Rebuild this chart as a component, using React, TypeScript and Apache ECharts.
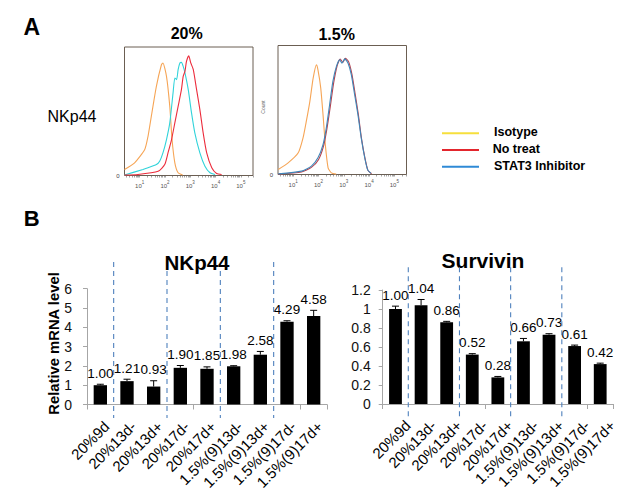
import React, { useEffect, useRef } from 'react';
import * as echarts from 'echarts';

// ---------- Panel B data ----------
const categories = ['20%9d', '20%13d-', '20%13d+', '20%17d-', '20%17d+', '1.5%(9)13d-', '1.5%(9)13d+', '1.5%(9)17d-', '1.5%(9)17d+'];
const nkp44Values = [1.0, 1.21, 0.93, 1.9, 1.85, 1.98, 2.58, 4.29, 4.58];
const nkp44Errors = [0.05, 0.1, 0.3, 0.12, 0.1, 0.03, 0.17, 0.05, 0.3];
const nkp44Labels = ['1.00', '1.21', '0.93', '1.90', '1.85', '1.98', '2.58', '4.29', '4.58'];
const survivinValues = [1.0, 1.04, 0.86, 0.52, 0.28, 0.66, 0.73, 0.61, 0.42];
const survivinErrors = [0.03, 0.06, 0.01, 0.01, 0.01, 0.03, 0.01, 0.01, 0.01];
const survivinLabels = ['1.00', '1.04', '0.86', '0.52', '0.28', '0.66', '0.73', '0.61', '0.42'];
// separators drawn after these category indices
const separatorAfter = [0, 2, 4, 6];

// ---------- Panel A data (log10 fluorescence, % of max count) ----------
const decadeTicks = [1, 2, 3, 4, 5];
const iso20 = [[0.4, 4.7], [0.8, 9.9], [1.2, 20.2], [1.33, 30.5], [1.46, 46], [1.66, 69.4], [1.86, 86.2], [1.92, 87.6], [2.06, 77.2], [2.19, 53.8], [2.28, 28], [2.39, 9.9], [2.52, 2.1], [2.7, 0.4]];
const cyan20 = [[0.4, 0.4], [1.13, 4.7], [1.33, 6.0], [1.66, 8.5], [1.79, 11.1], [1.92, 17.6], [2.06, 28], [2.19, 40.9], [2.32, 64.3], [2.39, 75.9], [2.46, 74.6], [2.52, 82.4], [2.59, 87.6], [2.65, 88], [2.72, 84.9], [2.79, 79.8], [2.92, 66.8], [3.05, 48.7], [3.18, 33.2], [3.38, 17.6], [3.58, 7.2], [3.78, 2.1], [3.98, 0.8]];
const red20 = [[0.4, 0.4], [0.93, 0.8], [1.73, 3.3], [1.99, 8.5], [2.12, 17.6], [2.26, 28], [2.39, 40.9], [2.52, 53.8], [2.65, 66.8], [2.72, 77.2], [2.79, 81], [2.85, 88.8], [2.94, 93.2], [3.02, 87.6], [3.12, 82.4], [3.25, 66.8], [3.38, 51.3], [3.51, 33.2], [3.65, 17.6], [3.85, 6.0], [4.04, 1.6], [4.24, 0.8]];
const iso15 = [[0.41, 3.9], [0.8, 9.0], [1.2, 16.8], [1.39, 28.4], [1.52, 41.3], [1.66, 56.7], [1.79, 74.7], [1.92, 85], [1.98, 81.1], [2.09, 67], [2.18, 46.4], [2.27, 23.2], [2.38, 5.2], [2.51, 1.3], [2.7, 0.3]];
const red15 = [[0.41, 0.3], [1.33, 2.0], [1.72, 5.5], [2.0, 11.5], [2.2, 22.0], [2.33, 35.0], [2.47, 53.0], [2.6, 71.0], [2.74, 84.5], [2.86, 89.5], [2.96, 87.0], [3.06, 90.0], [3.19, 87.5], [3.32, 78.0], [3.45, 62.5], [3.58, 46.0], [3.7, 28.0], [3.84, 12.5], [3.96, 3.0], [4.1, 0.6]];
const cyan15 = [[0.41, 0.5], [1.33, 2.6], [1.72, 6.5], [1.98, 12.9], [2.18, 23.2], [2.31, 36.1], [2.44, 54.1], [2.57, 72.2], [2.71, 83.8], [2.84, 88.9], [2.93, 86.3], [3.04, 89.6], [3.17, 86.3], [3.3, 77.3], [3.43, 61.8], [3.56, 46.4], [3.69, 28.4], [3.83, 12.9], [3.95, 3.4], [4.08, 0.9]];

const legendItems = ['Isotype', 'No treat', 'STAT3 Inhibitor'];
const legendColors = ['#f6df3c', '#e3262d', '#2f8ad6'];

const FONT = '"Liberation Sans", Arial, sans-serif';

function minorLogTicks(): number[] {
  const out: number[] = [];
  for (let d = 0; d <= 5; d++) {
    for (let k = 1; k <= 9; k++) {
      const v = d + Math.log10(k);
      if (v >= 0.4 && v <= 5.48) out.push(v);
    }
  }
  return out;
}

function histAxes(gridIndex: number) {
  const ticks = minorLogTicks();
  return {
    x: {
      type: 'value', gridIndex, min: 0.4, max: 5.48,
      axisLine: { show: false },
      splitLine: { show: false },
      axisTick: { show: true, customValues: ticks, length: 2, lineStyle: { color: '#666', width: 0.6 } },
      axisLabel: {
        customValues: decadeTicks, margin: 4,
        formatter: (v: number) => `{a|10}{b|${Math.round(v)}}`,
        rich: {
          a: { fontSize: 6, color: '#555', fontFamily: FONT, lineHeight: 9, verticalAlign: 'bottom' },
          b: { fontSize: 4.5, color: '#555', fontFamily: FONT, lineHeight: 9, verticalAlign: 'top' },
        },
      },
    },
    y: {
      type: 'value', gridIndex, min: 0, max: 100,
      axisLine: { show: false }, splitLine: { show: false },
      axisTick: { show: false },
      axisLabel: { customValues: [0], formatter: () => '0', fontSize: 6, color: '#444', margin: 5, fontFamily: FONT },
    },
  };
}

function barAxes(gridIndex: number, max: number, interval: number, labelMargin: number) {
  return {
    x: {
      type: 'category', gridIndex, data: categories,
      axisLine: { show: true, lineStyle: { color: '#a6a6a6', width: 1 } },
      axisTick: { show: true, length: 5, lineStyle: { color: '#a6a6a6' } },
      axisLabel: { show: false },
    },
    y: {
      type: 'value', gridIndex, min: 0, max, interval,
      axisLine: { show: true, lineStyle: { color: '#a6a6a6', width: 1 } },
      axisTick: { show: true, length: 4, lineStyle: { color: '#a6a6a6' } },
      splitLine: { show: false },
      axisLabel: { fontSize: 14, color: '#111', fontFamily: FONT, margin: labelMargin },
    },
  };
}

// error bars, value labels above them, and rotated category labels under the axis
function errorSeries(xAxisIndex: number, values: number[], errors: number[], labels: string[], catDx: number, catDy: number) {
  return {
    type: 'custom', xAxisIndex, yAxisIndex: xAxisIndex, z: 5, clip: false,
    data: values.map((v, i) => [i, v, errors[i]]),
    encode: { x: 0, y: 1 },
    renderItem: (params: any, api: any) => {
      const i = api.value(0);
      const v = api.value(1);
      const e = api.value(2);
      const base = api.coord([i, v]);
      const top = api.coord([i, v + e]);
      const zero = api.coord([i, 0]);
      return {
        type: 'group',
        children: [
          { type: 'line', shape: { x1: base[0], y1: base[1], x2: top[0], y2: top[1] }, style: { stroke: '#000', lineWidth: 1 } },
          { type: 'line', shape: { x1: top[0] - 3.5, y1: top[1], x2: top[0] + 3.5, y2: top[1] }, style: { stroke: '#000', lineWidth: 1 } },
          {
            type: 'text', x: top[0], y: top[1] - 4,
            style: { text: labels[params.dataIndex], fontSize: 13.5, fontFamily: FONT, fill: '#000', align: 'center', verticalAlign: 'bottom' },
          },
          {
            type: 'text', x: zero[0] + catDx, y: zero[1] + catDy, rotation: Math.PI / 4,
            style: { text: categories[params.dataIndex], fontSize: 15, fontFamily: FONT, fill: '#000', align: 'right', verticalAlign: 'top' },
          },
        ],
      };
    },
  };
}

function separatorSeries(xAxisIndex: number, tops: number[], bottom: number) {
  return {
    type: 'custom', xAxisIndex, yAxisIndex: xAxisIndex, z: 6, clip: false, silent: true,
    data: separatorAfter.map((c, k) => [c, tops[k], bottom]),
    encode: { x: 0, y: 1 },
    renderItem: (params: any, api: any) => {
      const c = api.value(0);
      const p1 = api.coord([c, api.value(1)]);
      const p2 = api.coord([c, api.value(2)]);
      const half = api.size([1, 0])[0] / 2;
      const x = p1[0] + half;
      return {
        type: 'line',
        shape: { x1: x, y1: p1[1], x2: x, y2: p2[1] },
        style: { stroke: '#4f81bd', lineWidth: 1.1, lineDash: [5, 4] },
      };
    },
  };
}

function lineSeries(idx: number, data: number[][], color: string, width = 1.1) {
  return {
    type: 'line', xAxisIndex: idx, yAxisIndex: idx, data, showSymbol: false, symbol: 'none',
    lineStyle: { color, width }, smooth: 0.2, silent: true,
  };
}

export default function App() {
  const ref = useRef<HTMLDivElement>(null);
  useEffect(() => {
    if (!ref.current) return;
    const chart = echarts.init(ref.current, null, { renderer: 'svg' });
    const h0 = histAxes(0);
    const h1 = histAxes(1);
    const b2 = barAxes(2, 6, 1, 15);
    const b3 = barAxes(3, 1.2, 0.2, 12);

    const legendGraphics: any[] = [];
    const legendY = [133.3, 150, 166.7];
    legendItems.forEach((name, i) => {
      legendGraphics.push({ type: 'line', shape: { x1: 442, y1: legendY[i], x2: 479, y2: legendY[i] }, style: { stroke: legendColors[i], lineWidth: 2 } });
      legendGraphics.push({ type: 'text', x: i === 1 ? 492.7 : 494, y: legendY[i] - 1, style: { text: name, fontSize: 12.5, fontWeight: 'bold', fontFamily: FONT, fill: '#000', align: 'left', verticalAlign: 'middle' } });
    });

    const textG = (text: string, x: number, y: number, size: number, bold: boolean, rotation = 0, color = '#000') => ({
      type: 'text', x, y, rotation,
      style: { text, fontSize: size, fontWeight: bold ? 'bold' : 'normal', fontFamily: FONT, fill: color, align: 'center', verticalAlign: 'middle' },
    });

    const gridBase = { outerBoundsMode: 'none', containLabel: false };

    chart.setOption({
      animation: false,
      backgroundColor: '#fff',
      grid: [
        { ...gridBase, left: 124.5, top: 47, width: 128.5, height: 128.5, show: true, borderColor: '#6b5e52', borderWidth: 1, backgroundColor: 'transparent' },
        { ...gridBase, left: 278, top: 45.5, width: 128.5, height: 129, show: true, borderColor: '#6b5e52', borderWidth: 1, backgroundColor: 'transparent' },
        { ...gridBase, left: 87, top: 288.7, width: 240, height: 115.8 },
        { ...gridBase, left: 382.7, top: 290, width: 230.3, height: 114 },
      ],
      xAxis: [h0.x, h1.x, b2.x, b3.x],
      yAxis: [h0.y, h1.y, b2.y, b3.y],
      series: [
        lineSeries(0, iso20, '#f6a556'),
        lineSeries(0, cyan20, '#30d3da'),
        lineSeries(0, red20, '#ec2c3c'),
        lineSeries(1, iso15, '#f6a556'),
        lineSeries(1, red15, '#b5424f'),
        lineSeries(1, cyan15, '#3f86b8'),
        {
          type: 'bar', xAxisIndex: 2, yAxisIndex: 2, data: nkp44Values, barWidth: '50%',
          itemStyle: { color: '#000' },
        },
        errorSeries(2, nkp44Values, nkp44Errors, nkp44Labels, 1, 14),
        separatorSeries(2, [7.38, 6.92, 6.92, 7.38], -0.7),
        {
          type: 'bar', xAxisIndex: 3, yAxisIndex: 3, data: survivinValues, barWidth: '50%',
          itemStyle: { color: '#000' },
        },
        errorSeries(3, survivinValues, survivinErrors, survivinLabels, 7, 13.5),
        separatorSeries(3, [1.44, 1.44, 1.44, 1.44], -0.17),
      ],
      graphic: [
        textG('A', 31.7, 26.7, 23, true),
        textG('20%', 186.7, 33.3, 16, true),
        textG('1.5%', 336.7, 34, 16, true),
        textG('NKp44', 72, 116.7, 16, false),
        textG('Count', 262.5, 107, 5, false, Math.PI / 2, '#666'),
        textG('B', 31.7, 218.3, 22, true),
        textG('NKp44', 197, 262, 20.5, true),
        textG('Survivin', 483, 260.7, 21, true),
        textG('Relative mRNA level', 54, 343.5, 14.8, true, Math.PI / 2),
        ...legendGraphics,
      ],
    });
    return () => chart.dispose();
  }, []);
  return <div ref={ref} style={{ position: 'fixed', left: 0, top: 0, width: 623, height: 494 }} />;
}
